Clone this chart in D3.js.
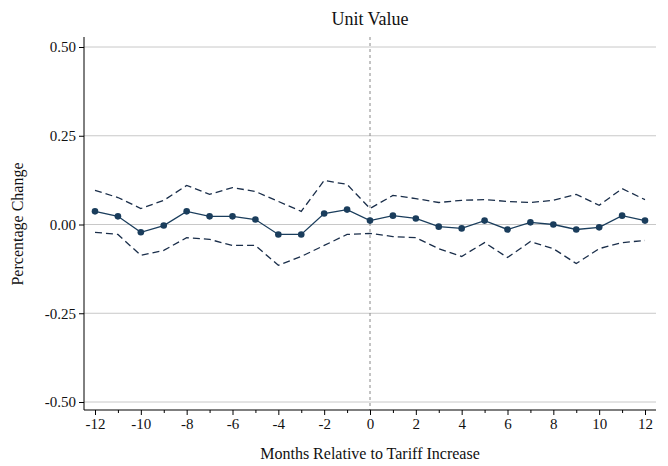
<!DOCTYPE html><html><head><meta charset="utf-8"><script src="https://cdn.jsdelivr.net/npm/d3@7"></script>
<style>body{margin:0;background:#fff}text{font-family:"Liberation Serif",serif;fill:#111}</style></head><body><svg id="c" width="668" height="466"></svg><script>
const months=d3.range(-12,13);
const est=[0.037,0.023,-0.022,-0.003,0.037,0.023,0.023,0.014,-0.028,-0.028,0.031,0.042,0.011,0.025,0.017,-0.006,-0.011,0.011,-0.014,0.006,0,-0.014,-0.008,0.025,0.011];
const upper=[0.096,0.076,0.045,0.068,0.11,0.085,0.104,0.093,0.065,0.037,0.124,0.113,0.045,0.082,0.073,0.062,0.068,0.07,0.065,0.062,0.068,0.085,0.054,0.101,0.07];
const lower=[-0.022,-0.028,-0.087,-0.073,-0.037,-0.042,-0.059,-0.059,-0.115,-0.09,-0.059,-0.028,-0.025,-0.034,-0.037,-0.068,-0.09,-0.051,-0.093,-0.048,-0.068,-0.11,-0.068,-0.051,-0.045];
const yTicks=[-0.5,-0.25,0,0.25,0.5];
const xTicks=d3.range(-12,13,2);
const svg=d3.select("#c");
const x=d3.scaleLinear().domain([-12,12]).range([95,645]);
const y=d3.scaleLinear().domain([-0.5,0.5]).range([402,47]);
const L=84,R=656,T=37,B=410;
svg.append("g").selectAll("line").data(yTicks).join("line").attr("x1",L).attr("x2",R).attr("y1",d=>y(d)).attr("y2",d=>y(d)).attr("stroke","#c8c8c8");
svg.append("line").attr("x1",x(0)).attr("x2",x(0)).attr("y1",T).attr("y2",B).attr("stroke","#888").attr("stroke-dasharray","3,3");
const ya=svg.append("g").attr("transform",`translate(${L},0)`).call(d3.axisLeft(y).tickValues(yTicks).tickFormat(d=>d3.format(".2f")(d).replace("−","-")).tickSize(5));
ya.select(".domain").attr("d",`M0,${T}V${B}`);
ya.selectAll("text").style("font-size","15px");
const xa=svg.append("g").attr("transform",`translate(0,${B})`).call(d3.axisBottom(x).tickValues(xTicks).tickFormat(d=>d<0?"-"+Math.abs(d):d).tickSize(5));
xa.select(".domain").attr("d",`M${L},0H${R}`);
xa.selectAll("text").style("font-size","15px");
svg.append("g").attr("transform",`translate(0,${B})`).call(d3.axisBottom(x).tickValues(d3.range(-11,12,2)).tickFormat("").tickSize(3)).select(".domain").remove();
const line=d3.line().x((d,i)=>x(months[i])).y(d=>y(d));
svg.append("path").datum(upper).attr("d",line).attr("fill","none").attr("stroke","#1a2e4a").attr("stroke-width",1.3).attr("stroke-dasharray","7,4");
svg.append("path").datum(lower).attr("d",line).attr("fill","none").attr("stroke","#1a2e4a").attr("stroke-width",1.3).attr("stroke-dasharray","7,4");
svg.append("path").datum(est).attr("d",line).attr("fill","none").attr("stroke","#1a3d5c").attr("stroke-width",1.3);
svg.append("g").selectAll("circle").data(est).join("circle").attr("cx",(d,i)=>x(months[i])).attr("cy",d=>y(d)).attr("r",3.3).attr("fill","#1a3d5c");
svg.append("text").attr("x",370).attr("y",25).attr("text-anchor","middle").style("font-size","18px").text("Unit Value");
svg.append("text").attr("x",370).attr("y",459).attr("text-anchor","middle").style("font-size","16px").text("Months Relative to Tariff Increase");
svg.append("text").attr("transform","translate(23,224) rotate(-90)").attr("text-anchor","middle").style("font-size","16px").text("Percentage Change");
</script></body></html>
